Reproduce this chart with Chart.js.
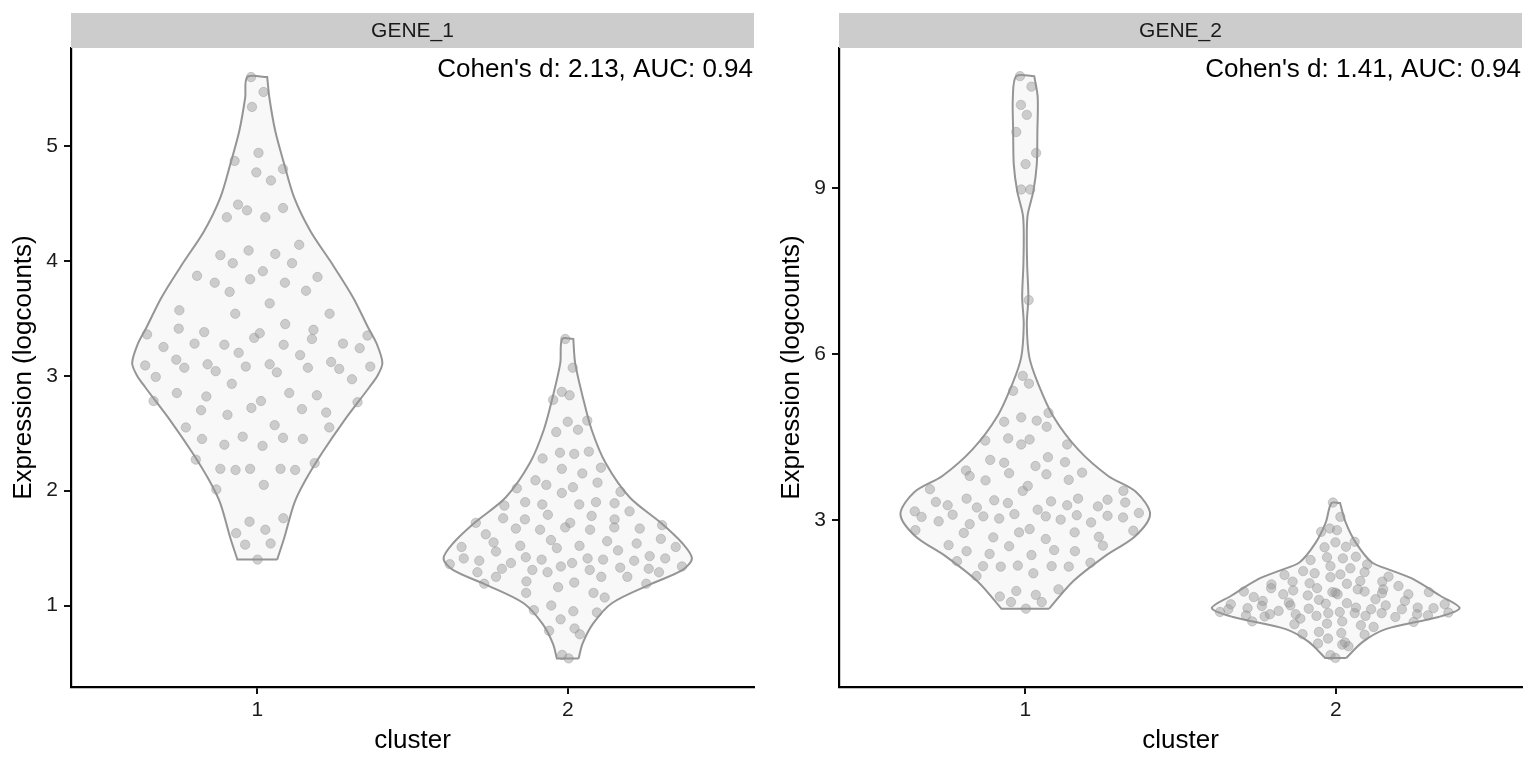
<!DOCTYPE html>
<html lang="en">
<head>
<meta charset="UTF-8" />
<title>Expression by cluster</title>
<script src="https://cdn.jsdelivr.net/npm/chart.js"></script>
<style>
  body { margin: 0; background: #fff; }
  .row { display: flex; width: 1536px; height: 768px; }
  .panel { position: relative; width: 768px; height: 768px; }
</style>
</head>
<body>
<div class="row">
  <div class="panel"><canvas id="gene1"></canvas></div>
  <div class="panel"><canvas id="gene2"></canvas></div>
</div>
<script>
// categories and labels
const clusters = ["1", "2"];
const genes = ["GENE_1", "GENE_2"];
const geneStats = ["Cohen's d: 2.13, AUC: 0.94", "Cohen's d: 1.41, AUC: 0.94"];
const gene1Ticks = [1, 2, 3, 4, 5];
const gene2Ticks = [3, 6, 9];
const gene1Range = [0.291, 5.853];
const gene2Range = [-0.016, 11.539];
const clusterRange = [0.4, 2.6];

// violin outlines: expression level and half width (in cluster units)
const g1c1Level = [1.40, 1.59, 1.89, 2.09, 2.33, 2.61, 2.90, 3.00, 3.11, 3.27, 3.42, 3.68, 3.97, 4.26, 4.55, 4.84, 5.13, 5.42, 5.60];
const g1c1Half  = [0.064, 0.087, 0.119, 0.155, 0.209, 0.280, 0.361, 0.387, 0.403, 0.386, 0.357, 0.309, 0.242, 0.171, 0.119, 0.087, 0.058, 0.039, 0.032];
const g1c2Level = [0.54, 0.67, 0.84, 1.02, 1.19, 1.31, 1.41, 1.54, 1.72, 1.94, 2.24, 2.53, 2.82, 3.11, 3.32];
const g1c2Half  = [0.035, 0.048, 0.081, 0.142, 0.271, 0.370, 0.400, 0.370, 0.300, 0.200, 0.122, 0.077, 0.048, 0.024, 0.018];
const g2c1Level = [1.40, 1.88, 2.35, 2.71, 3.11, 3.51, 3.80, 4.28, 4.88, 5.49, 5.95, 6.54, 7.03, 7.63, 8.22, 8.53, 8.95, 9.43, 10.03, 10.65, 11.03];
const g2c1Half  = [0.077, 0.151, 0.257, 0.354, 0.402, 0.357, 0.267, 0.170, 0.090, 0.040, 0.013, 0.005, 0.010, 0.006, 0.005, 0.008, 0.026, 0.037, 0.039, 0.040, 0.029];
const g2c2Level = [0.51, 0.80, 1.03, 1.25, 1.41, 1.63, 1.93, 2.08, 2.24, 2.60, 2.96, 3.31];
const g2c2Half  = [0.034, 0.087, 0.161, 0.331, 0.399, 0.338, 0.251, 0.185, 0.116, 0.064, 0.032, 0.014];

// cells: expression values and horizontal jitter
const g1c1Expr = [5.60,5.47,5.34,4.94,4.87,4.77,4.80,4.70,4.49,4.44,4.38,4.38,4.46,4.14,4.05,4.09,4.06,3.98,3.98,3.91,3.87,3.81,3.84,3.81,3.86,3.73,3.74,3.63,3.57,3.54,3.54,
  3.36,3.41,3.38,3.33,3.37,3.45,3.40,3.32,3.35,3.25,3.28,3.27,3.20,3.27,3.28,3.24,3.09,3.14,3.07,3.10,3.04,3.08,3.10,3.03,3.18,3.07,3.12,3.06,3.08,2.99,2.93,2.97,
  2.85,2.82,2.78,2.70,2.66,2.72,2.78,2.85,2.71,2.83,2.68,2.77,2.55,2.57,2.55,2.45,2.40,2.47,2.39,2.46,2.45,2.27,2.19,2.18,2.19,2.19,2.18,2.24,2.01,2.05,
  1.73,1.76,1.63,1.66,1.53,1.54,1.40];
const g1c1Jitter = [-0.020,0.020,-0.017,0.004,-0.073,-0.003,0.083,0.044,-0.062,-0.033,-0.098,0.026,0.083,0.135,-0.119,-0.028,0.058,-0.079,0.112,0.018,-0.194,-0.137,-0.023,0.089,0.194,-0.089,0.157,0.040,-0.251,-0.071,0.233,
  -0.355,-0.253,-0.171,-0.010,0.008,0.090,0.181,0.176,0.355,-0.302,-0.202,-0.106,-0.060,0.085,0.276,0.330,-0.361,-0.261,-0.235,-0.160,-0.134,-0.037,0.040,0.063,0.138,0.163,0.238,0.264,0.364,-0.327,-0.082,0.305,
  -0.259,-0.164,-0.334,-0.181,-0.096,-0.019,0.012,0.103,0.144,0.192,0.222,0.323,-0.230,0.056,0.232,-0.178,-0.106,-0.047,0.017,0.083,0.147,-0.198,-0.119,-0.070,-0.023,0.075,0.122,0.185,-0.132,0.021,
  -0.025,0.084,-0.068,0.026,-0.039,0.043,0.001];

const g1c2Expr = [3.32,3.07,2.86,2.83,2.79,2.60,2.61,2.53,2.51,2.28,2.33,2.32,2.34,2.19,2.15,2.20,2.09,2.05,1.98,2.03,2.07,2.02,1.99,
  1.87,1.90,1.88,1.88,1.90,1.89,1.82,1.72,1.76,1.75,1.79,1.78,1.75,1.70,1.62,1.67,1.66,1.68,1.72,1.66,1.68,1.67,
  1.55,1.51,1.52,1.57,1.50,1.52,1.56,1.54,1.58,1.51,1.41,1.39,1.47,1.42,1.40,1.41,1.40,1.48,1.39,1.43,1.41,
  1.36,1.37,1.32,1.29,1.25,1.31,1.29,1.34,1.37,1.31,1.25,1.33,1.25,1.32,1.29,1.34,1.19,1.21,1.20,1.16,1.19,
  1.11,1.11,1.07,0.96,1.00,0.95,0.94,0.88,0.78,0.80,0.75,0.57,0.54];
const g1c2Jitter = [-0.008,0.016,-0.019,0.006,-0.047,0.000,0.063,0.033,-0.037,-0.081,-0.025,0.021,0.068,-0.019,0.047,0.107,-0.104,-0.069,-0.019,0.017,0.096,-0.164,0.170,
  -0.204,-0.137,-0.082,0.037,0.091,0.151,0.199,-0.296,-0.208,-0.138,-0.064,0.077,0.151,0.304,-0.264,-0.167,-0.089,-0.008,0.008,0.072,0.150,0.232,
  -0.239,-0.342,-0.153,-0.054,-0.035,0.038,0.127,0.222,0.300,0.348,-0.335,-0.285,-0.231,-0.135,-0.084,0.064,0.114,0.162,0.214,0.264,0.314,
  -0.380,-0.183,-0.212,-0.291,-0.231,-0.114,-0.065,-0.022,0.014,0.071,0.108,0.169,0.192,0.261,0.294,0.368,-0.269,-0.133,0.021,-0.031,0.253,
  -0.134,0.083,0.119,-0.109,-0.053,0.018,0.094,-0.023,-0.060,0.022,0.039,-0.018,0.003];

const g2c1Expr = [11.03,10.84,10.51,10.33,10.02,9.64,9.44,8.98,8.98,6.98,5.61,5.47,5.34,4.78,4.86,4.80,4.69,4.94,4.44,4.48,4.37,4.46,4.37,
  4.09,4.04,3.85,3.98,3.83,4.14,4.05,3.73,3.86,3.90,3.80,3.72,3.56,3.53,3.62,3.53,
  3.33,3.27,3.39,3.23,3.36,3.31,3.34,3.27,3.39,3.25,3.37,3.32,3.16,3.06,3.10,2.98,3.07,3.03,3.11,3.19,3.07,3.01,3.09,2.96,3.08,3.05,3.13,
  2.82,2.77,2.93,2.78,2.84,2.78,2.70,2.81,2.55,2.69,2.66,2.53,2.44,2.39,2.37,2.46,2.44,2.54,
  2.26,2.17,2.16,2.18,2.17,2.16,2.23,1.99,2.04,1.62,1.72,1.52,1.65,1.52,1.75,1.40];
const g2c1Jitter = [-0.017,0.020,-0.014,0.005,-0.029,0.035,0.001,-0.013,0.016,0.011,-0.008,0.012,-0.039,-0.068,-0.013,0.037,0.069,0.075,-0.129,-0.055,-0.013,0.014,0.135,
  -0.113,-0.068,-0.052,0.033,0.068,0.073,0.128,0.140,0.183,-0.191,-0.179,-0.128,-0.307,-0.008,0.008,0.316,
  -0.288,-0.250,-0.189,-0.156,-0.100,-0.056,0.083,0.135,0.170,0.234,0.265,0.322,-0.356,-0.334,-0.234,-0.279,-0.135,-0.084,-0.035,0.040,0.066,0.114,0.166,0.212,0.265,0.315,0.366,
  -0.354,-0.198,-0.179,-0.020,0.014,0.159,0.237,0.348,-0.247,-0.103,0.066,-0.052,-0.189,-0.115,0.020,0.093,0.160,0.250,
  -0.220,-0.136,-0.079,-0.024,0.085,0.140,0.210,-0.157,0.026,-0.082,-0.029,-0.046,0.034,0.053,0.107,0.002];

const g2c2Expr = [3.32,3.06,2.79,2.85,2.82,2.61,2.51,2.60,2.52,2.28,2.33,2.31,2.34,2.17,2.13,2.20,2.08,2.04,2.01,1.97,2.02,2.06,1.89,1.98,
  1.84,1.89,1.86,1.85,1.90,1.81,1.71,1.77,1.66,1.73,1.77,1.69,1.70,1.75,1.71,1.75,1.68,1.66,1.70,
  1.61,1.54,1.51,1.64,1.56,1.66,1.50,1.57,1.54,1.48,1.39,1.34,1.41,1.45,1.36,1.46,1.40,1.49,1.34,1.42,1.39,1.46,1.39,1.42,1.41,1.48,1.33,
  1.28,1.26,1.30,1.30,1.22,1.27,1.32,1.17,1.32,1.27,1.32,1.25,1.30,1.28,1.17,1.12,1.13,1.10,1.07,1.16,
  0.94,0.98,0.96,0.93,0.77,0.86,0.79,0.75,0.72,0.56,0.51];
const g2c2Jitter = [-0.009,0.015,-0.047,-0.019,0.004,0.061,-0.036,-0.001,0.033,-0.081,-0.028,0.023,0.065,-0.017,0.047,0.101,-0.105,-0.068,-0.165,-0.017,0.015,0.093,0.150,0.170,
  -0.207,-0.139,-0.084,0.036,0.079,0.202,-0.296,-0.208,-0.169,-0.137,-0.060,-0.001,-0.011,0.071,0.093,0.153,0.149,0.234,0.300,
  -0.264,-0.235,-0.151,-0.090,-0.054,0.006,0.036,0.128,0.223,-0.338,-0.346,-0.373,-0.284,-0.238,-0.184,-0.146,-0.087,-0.032,0.013,0.065,0.114,0.161,0.213,0.264,0.315,0.351,0.363,
  -0.289,-0.229,-0.212,-0.129,-0.114,-0.062,-0.024,0.021,0.061,0.096,0.148,0.192,0.262,0.297,-0.269,-0.133,-0.028,0.081,0.122,0.251,
  -0.107,-0.054,0.018,0.093,-0.057,-0.025,0.030,0.021,0.041,-0.017,-0.001];

const FONT = "'Liberation Sans', Arial, Helvetica, sans-serif";
Chart.defaults.font.family = FONT;

// closed violin path: right side up, left side down; corners doubled so they stay sharp
function violinPath(center, levels, halves) {
  const right = levels.map((y, i) => ({ x: center + halves[i], y }));
  const left = levels.map((y, i) => ({ x: center - halves[i], y })).reverse();
  const n = levels.length;
  return [...right, right[n - 1], ...left, left[n - 1], right[0]];
}

function cells(center, jitter, expr) {
  return expr.map((y, i) => ({ x: center + jitter[i], y }));
}

function violinDataset(data) {
  return {
    data, showLine: true, fill: 'shape', tension: 0.3, order: 2,
    backgroundColor: '#F8F8F8', borderColor: '#959595', borderWidth: 2,
    pointRadius: 0, pointHoverRadius: 0
  };
}

function cellDataset(data) {
  return {
    data, order: 1, pointRadius: 4.7, pointHoverRadius: 4.7,
    backgroundColor: 'rgba(150,150,150,0.45)', borderColor: 'rgba(135,135,135,0.35)', borderWidth: 1
  };
}

const panelDecor = {
  id: 'panelDecor',
  afterDraw(chart, args, opts) {
    const { ctx, chartArea: a } = chart;
    ctx.save();
    ctx.fillStyle = '#CCCCCC';
    ctx.fillRect(a.left, a.top - 35, a.right - a.left, 35);
    ctx.fillStyle = '#1A1A1A';
    ctx.font = '21px ' + FONT;
    ctx.textAlign = 'center';
    ctx.textBaseline = 'middle';
    ctx.fillText(opts.strip, (a.left + a.right) / 2, a.top - 17);
    ctx.fillStyle = '#000';
    ctx.font = '26px ' + FONT;
    ctx.textAlign = 'right';
    ctx.textBaseline = 'alphabetic';
    ctx.fillText(opts.stats, a.right - 1, a.top + 29);
    ctx.restore();
  }
};

function makePanel(id, strip, stats, yRange, yTicks, violins, points) {
  new Chart(document.getElementById(id), {
    type: 'scatter',
    data: { datasets: [...points.map(cellDataset), ...violins.map(violinDataset)] },
    plugins: [panelDecor],
    options: {
      responsive: true,
      maintainAspectRatio: false,
      animation: false,
      events: [],
      layout: { padding: { top: 48, right: 14, bottom: 0, left: 0 } },
      plugins: {
        legend: { display: false },
        tooltip: { enabled: false },
        panelDecor: { strip, stats }
      },
      scales: {
        x: {
          type: 'linear', min: clusterRange[0], max: clusterRange[1],
          afterBuildTicks: s => { s.ticks = clusters.map((c, i) => ({ value: i + 1 })); },
          afterFit: s => { s.height = 81; },
          ticks: { callback: v => clusters[Math.round(v) - 1], color: '#1A1A1A', font: { size: 21 }, padding: 4, maxRotation: 0 },
          grid: { drawOnChartArea: false, drawTicks: true, tickLength: 7, color: '#111', lineWidth: 2 },
          border: { display: true, color: '#000', width: 2.2 },
          title: { display: true, text: 'cluster', color: '#000', font: { size: 26 }, padding: { top: 0, bottom: 12 } }
        },
        y: {
          type: 'linear', min: yRange[0], max: yRange[1],
          afterBuildTicks: s => { s.ticks = yTicks.map(v => ({ value: v })); },
          afterFit: s => { s.width = 71; },
          ticks: { color: '#1A1A1A', font: { size: 21 }, padding: 6 },
          grid: { drawOnChartArea: false, drawTicks: true, tickLength: 7, color: '#111', lineWidth: 2 },
          border: { display: true, color: '#000', width: 2.2 },
          title: { display: true, text: 'Expression (logcounts)', color: '#000', font: { size: 26 }, padding: { top: 8, bottom: 0 } }
        }
      }
    }
  });
}

makePanel('gene1', genes[0], geneStats[0], gene1Range, gene1Ticks,
  [violinPath(1, g1c1Level, g1c1Half), violinPath(2, g1c2Level, g1c2Half)],
  [cells(1, g1c1Jitter, g1c1Expr), cells(2, g1c2Jitter, g1c2Expr)]);

makePanel('gene2', genes[1], geneStats[1], gene2Range, gene2Ticks,
  [violinPath(1, g2c1Level, g2c1Half), violinPath(2, g2c2Level, g2c2Half)],
  [cells(1, g2c1Jitter, g2c1Expr), cells(2, g2c2Jitter, g2c2Expr)]);
</script>
</body>
</html>
